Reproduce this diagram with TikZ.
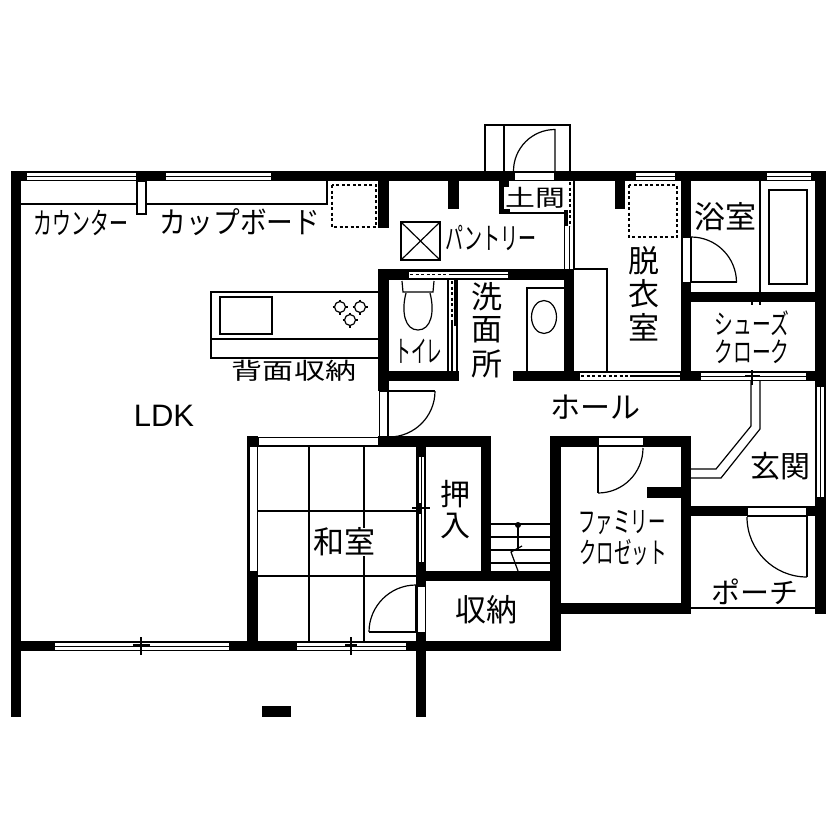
\documentclass[tikz,border=0pt]{standalone}
\usepackage{fontspec}
\setmainfont{Noto Sans CJK JP}
\newfontfamily\latinfont{Liberation Sans}
\tikzset{
  wall/.style={fill=black},
  line/.style={line width=1.2pt},
  glass/.style={fill=white,draw=black,line width=0.8pt},
  hidden/.style={line width=1.2pt,dash pattern=on 3pt off 2.5pt},
  txt/.style={inner sep=0pt,font=\fontsize{#1}{#1}\selectfont},
  sx/.style={xscale=#1,transform shape},
}
\begin{document}
\begin{tikzpicture}[x=1pt,y=-1pt]
\useasboundingbox (0,0) rectangle (840,840);
\fill[wall] (11,171) rectangle (826,181);
\fill[wall] (11,171) rectangle (21,717);
\fill[wall] (815,171) rectangle (826,614);
\fill[wall] (378,181) rectangle (389,228);
\fill[wall] (448,181) rectangle (459,209);
\fill[wall] (499,181) rectangle (504,214);
\fill[wall] (499,181) rectangle (509,187);
\fill[wall] (499,209) rectangle (510,214);
\fill[wall] (564,210) rectangle (568,226);
\fill[wall] (615,181) rectangle (625,209);
\fill[wall] (681,171) rectangle (691,381);
\fill[wall] (681,292) rectangle (826,302);
\fill[wall] (378,269) rectangle (574,280);
\fill[wall] (378,269) rectangle (389,391);
\fill[wall] (378,371) rectangle (459,381);
\fill[wall] (454,280) rectangle (457,326);
\fill[wall] (564,269) rectangle (574,381);
\fill[wall] (513,371) rectangle (826,381);
\fill[wall] (378,436) rectangle (491,447);
\fill[wall] (481,436) rectangle (491,581);
\fill[wall] (416,436) rectangle (426,717);
\fill[wall] (416,571) rectangle (561,581);
\fill[wall] (247,436) rectangle (258,651);
\fill[wall] (11,641) rectangle (561,651);
\fill[wall] (550,436) rectangle (561,651);
\fill[wall] (550,436) rectangle (691,447);
\fill[wall] (681,436) rectangle (691,614);
\fill[wall] (647,487) rectangle (681,498);
\fill[wall] (550,603) rectangle (691,614);
\fill[wall] (691,506) rectangle (815,516);
\fill[wall] (262,706) rectangle (291,717);
% glass along the walls
\foreach \xa/\xb in {26/136,165/271,635/675,766/811}{
  \draw[glass] (\xa,172) rectangle (\xb,180);
  \draw[glass] (\xa,176) -- (\xb,176);
}
\foreach \xa/\xb in {54/229,296/406}{
  \draw[glass] (\xa,642) rectangle (\xb,650);
  \draw[glass] (\xa,646) -- (\xb,646);
}
\draw[glass] (816,386) rectangle (824,497);
\draw[glass] (820,386) -- (820,497);
\draw[glass] (249,446) rectangle (257,571);
\draw[glass] (418,456) rectangle (424,562);
\draw[glass] (421,456) -- (421,562);
\draw[glass] (408,271) rectangle (508,278);
\draw[glass] (579,372) rectangle (680,380);
\draw[glass] (700,372) rectangle (806,380);
\draw[glass] (700,376) -- (806,376);
% openings
\draw[glass] (514,172) rectangle (554,180);
\draw[glass] (682,237) rectangle (690,282);
\draw[glass] (598,437) rectangle (643,446);
\draw[glass] (747,507) rectangle (806,515);
\draw[glass] (379,391) rectangle (387,436);
\draw[glass] (258,437) rectangle (378,445);
\draw[glass] (417,586) rectangle (425,632);
\fill[white] (564,181) rectangle (574,210);
\fill[white] (448,280) rectangle (454,371);
\fill[white] (454,326) rectangle (457,371);
% sliding doors
\draw[hidden] (410,274.5) -- (452,274.5);
\draw[line] (452,274.5) -- (508,274.5);
\draw[hidden] (581,376) -- (630,376);
\draw[line] (630,376) -- (680,376);
\draw[hidden] (452,281) -- (452,320);
\draw[line] (448,280) -- (448,371);
\draw[line] (452,320) -- (452,371);
\draw[line] (457,280) -- (457,371);
\draw[hidden] (570,182) -- (570,226);
\draw[line] (564.5,226) -- (564.5,269);
\draw[line] (569.5,226) -- (569.5,269);
\draw[line] (574,181) -- (574,269);
% counter
\draw[line] (21,204) -- (137,204);
\draw[line] (146,204) -- (327,204) -- (327,181);
\draw[line] (137,181) rectangle (146,214);
\draw[hidden] (332,185) rectangle (376,227);
\draw[hidden] (629,185) rectangle (677,237);
\draw[line] (401,222) rectangle (440,260);
\draw[line] (401,222) -- (440,260);
\draw[line] (401,260) -- (440,222);
% kitchen
\draw[line] (378,292) -- (211,292) -- (211,358) -- (378,358);
\draw[line] (211,339) -- (378,339);
\draw[line] (220,297) rectangle (272,334);
\foreach \bx/\by in {340/307,360/307,350/320}{
  \draw[line] (\bx,\by) circle (5.5);
  \draw[line] (\bx-7.5,\by) -- (\bx-5,\by);
  \draw[line] (\bx+5,\by) -- (\bx+7.5,\by);
  \draw[line] (\bx,\by-7.5) -- (\bx,\by-5);
  \draw[line] (\bx,\by+5) -- (\bx,\by+7.5);
}
% entrance box
\draw[line] (485,171) -- (485,125) -- (570,125) -- (570,171);
\draw[line] (504,125) -- (504,171);
\draw[line] (513.5,171) arc[start angle=180,end angle=270,radius=41.5] -- (555,171);
\draw[line] (504,213) -- (564,213);
% toilet and bath
\draw[line] (402,281) -- (403,292) -- (433,292) -- (434,281);
\draw[line] (406,293) .. controls (401,312) and (405,330) .. (418,330) .. controls (431,330) and (435,312) .. (430,293);
\draw[line] (564,288) -- (527,288) -- (527,371);
\draw[line] (544,317) ellipse (12.5 and 16.5);
\draw[line] (574,269) -- (607,269) -- (607,371);
\draw[line] (691,237) -- (691,282) -- (737,282);
\draw[line] (691,237) arc[start angle=-90,end angle=0,radius=45.5];
\draw[line] (760,181) -- (760,292);
\draw[line] (769,190) rectangle (807,284);
\draw[line] (752,302) -- (752,305);
\draw[line] (760,302) -- (760,305);
% hall
\draw[line] (388,436) -- (388,391) -- (435,391);
\draw[line] (435,391) arc[start angle=0,end angle=90,radius=46];
\draw[line] (751,381) -- (751,426) -- (716,469) -- (691,469);
\draw[line] (760,381) -- (760,429) -- (721,478) -- (691,478);
\draw[line] (752,370) -- (752,385);
\draw[line] (745,376) -- (760,376);
% closet and porch
\draw[line] (643,446) -- (598,446) -- (598,493);
\draw[line] (598,493) arc[start angle=90,end angle=0,radius=45];
\draw[line] (747,516) -- (807,516) -- (807,577);
\draw[line] (807,577) arc[start angle=90,end angle=180,radius=60];
\draw[line] (691,608) -- (815,608);
% stairs
\foreach \ys in {524,537,550,563}{
  \draw[line] (491,\ys) -- (551,\ys);
}
\draw[line] (518,525) -- (518,549);
\fill (518,525) circle (3);
\draw[line] (522,546) -- (511,552) -- (518,571);
% tatami
\draw[line] (258,446) -- (416,446);
\draw[line] (258,511) -- (416,511);
\draw[line] (258,576) -- (416,576);
\draw[line] (309,446) -- (309,641);
\draw[line] (364,446) -- (364,641);
\draw[line] (416,585) -- (416,632) -- (369,632);
\draw[line] (416,585) arc[start angle=270,end angle=180,radius=47];
\draw[line] (412,508) -- (430,508);
\draw[line] (420,503) -- (420,514);
\draw[line] (141,637) -- (141,655);
\draw[line] (133,645) -- (150,645);
\draw[line] (351,637) -- (351,655);
\draw[line] (345,645) -- (357,645);
% labels
\node[txt=30,sx=0.63] (counter) at (81,223) {カウンター};
\node[txt=30,sx=0.89] (cupboard) at (240,222) {カップボード};
\node[txt=30,sx=0.6] (pantry) at (491,238) {パントリー};
\node[txt=23,sx=1.3] (doma) at (535,198) {土間};
\node[txt=31] (datsu) at (644,261) {脱};
\node[txt=31] (i) at (644,294) {衣};
\node[txt=31] (shitsu) at (644,327) {室};
\node[txt=31] (sen) at (487,297) {洗};
\node[txt=31] (men) at (487,330) {面};
\node[txt=31] (sho) at (487,364) {所};
\node[txt=31] (bath) at (725,217) {浴室};
\node[txt=28,sx=0.67] (shoes) at (752,323) {シューズ};
\node[txt=28,sx=0.67] (cloak) at (752,352) {クローク};
\node[txt=30] (hall) at (595,407) {ホール};
\node[txt=30] (genkan) at (780,466) {玄関};
\node[txt=23,sx=1.35] (back) at (294,371) {背面収納};
\node[txt=30,sx=0.52] (toilet) at (419,351) {トイレ};
\node[txt=30] (oshi) at (455,494) {押};
\node[txt=30] (iri) at (455,526) {入};
\node[txt=31,fill=white] (washitsu) at (344,542) {和室};
\node[txt=31] (shuno) at (486,610) {収納};
\node[txt=29,sx=0.6] (family) at (622,523) {ファミリー};
\node[txt=29,sx=0.6] (closet) at (623,552) {クロゼット};
\node[txt=29] (porch) at (755,592) {ポーチ};
\node[inner sep=0pt,font=\latinfont\fontsize{31}{31}\selectfont] (ldk) at (164,416) {LDK};
\end{tikzpicture}
\end{document}
